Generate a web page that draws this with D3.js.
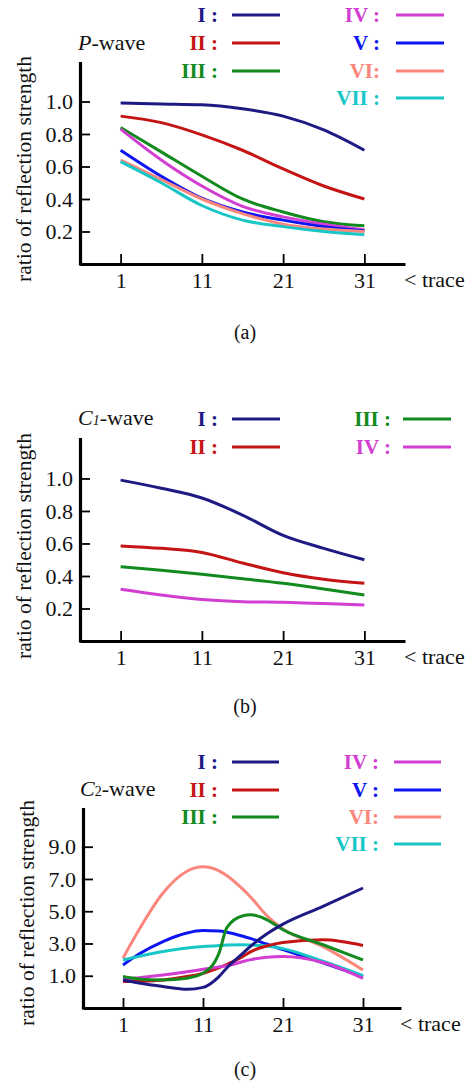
<!DOCTYPE html>
<html>
<head>
<meta charset="utf-8">
<script src="https://cdn.jsdelivr.net/npm/d3@7"></script>
<style>
  body { margin: 0; background: #fff; }
  svg text { font-family: "Liberation Serif", "Times New Roman", serif; }
</style>
</head>
<body>
<div class="chart"></div>
<script>
const traces = [1, 6, 11, 16, 21, 26, 31];
const tickTraces = [1, 11, 21, 31];

// panel (a) P-wave
const pI   = [0.99, 0.985, 0.98, 0.955, 0.91, 0.825, 0.70];
const pII  = [0.91, 0.87, 0.795, 0.70, 0.585, 0.48, 0.40];
const pIII = [0.84, 0.69, 0.54, 0.40, 0.32, 0.26, 0.235];
const pIV  = [0.83, 0.64, 0.48, 0.355, 0.29, 0.245, 0.21];
const pV   = [0.70, 0.54, 0.405, 0.32, 0.27, 0.23, 0.205];
const pVI  = [0.64, 0.52, 0.40, 0.31, 0.245, 0.215, 0.20];
const pVII = [0.63, 0.50, 0.36, 0.27, 0.23, 0.20, 0.18];
const pTicks = [0.2, 0.4, 0.6, 0.8, 1.0];

// panel (b) C1-wave
const c1I   = [0.99, 0.94, 0.88, 0.775, 0.65, 0.57, 0.50];
const c1II  = [0.585, 0.57, 0.545, 0.48, 0.42, 0.38, 0.355];
const c1III = [0.457, 0.435, 0.41, 0.383, 0.355, 0.32, 0.283];
const c1IV  = [0.318, 0.283, 0.256, 0.242, 0.238, 0.23, 0.222];
const c1Ticks = [0.2, 0.4, 0.6, 0.8, 1.0];

// panel (c) C2-wave, read at a finer set of traces
const c2Traces = [1, 3, 6, 9, 11, 13, 14, 16, 17, 19, 21, 26, 31];
const c2I   = [0.74, 0.55, 0.33, 0.16, 0.28, 0.95, 1.5, 2.4, 2.85, 3.6, 4.2, 5.3, 6.44];
const c2II  = [0.64, 0.66, 0.74, 0.95, 1.15, 1.5, 1.7, 2.2, 2.5, 2.85, 3.06, 3.23, 2.88];
const c2III = [0.95, 0.8, 0.74, 0.85, 1.15, 2.4, 4.0, 4.72, 4.78, 4.47, 3.85, 2.92, 1.98];
const c2IV  = [0.78, 0.88, 1.05, 1.25, 1.40, 1.55, 1.62, 1.88, 2.0, 2.15, 2.19, 1.82, 0.84];
const c2V   = [1.67, 2.35, 3.12, 3.65, 3.8, 3.78, 3.7, 3.45, 3.3, 2.95, 2.62, 1.8, 0.95];
const c2VI  = [2.09, 3.85, 6.13, 7.48, 7.75, 7.5, 7.2, 6.35, 5.85, 4.72, 3.9, 2.81, 1.36];
const c2VII = [1.98, 2.2, 2.5, 2.72, 2.81, 2.87, 2.9, 2.92, 2.9, 2.85, 2.68, 1.9, 1.01];
const c2Ticks = [1.0, 3.0, 5.0, 7.0, 9.0];

const colors = {
  I: '#1e1a84', II: '#c41414', III: '#128a1e', IV: '#d23ed2',
  V: '#0c14f2', VI: '#fa867c', VII: '#18c6c6'
};

const width = 476;
const height = 1088;

const svg = d3.select('.chart').append('svg')
  .attr('width', width).attr('height', height);

function drawPanel(p) {
  const g = svg.append('g');
  const x = d3.scaleLinear().domain(p.xDomain).range([p.left, p.right]);
  const y = d3.scaleLinear().domain(p.yDomain).range([p.bottom, p.top]);

  // axes
  const yAxis = g.append('g')
    .attr('transform', `translate(${p.left},0)`)
    .call(d3.axisLeft(y).tickValues(p.yTicks).tickFormat(d3.format('.1f'))
      .tickSizeInner(-10).tickSizeOuter(0).tickPadding(7));
  const xAxis = g.append('g')
    .attr('transform', `translate(0,${p.bottom})`)
    .call(d3.axisBottom(x).tickValues(tickTraces).tickFormat(d3.format('d'))
      .tickSizeInner(-10).tickSizeOuter(0).tickPadding(8));
  [yAxis, xAxis].forEach(a => {
    a.select('.domain').attr('stroke-width', 3.2).attr('stroke', '#000');
    a.selectAll('.tick line').attr('stroke-width', 1.8).attr('stroke', '#000');
    a.selectAll('.tick text').attr('font-size', 22).attr('fill', '#111')
      .attr('font-family', '"Liberation Serif", serif');
  });
  // axis lines meet at the corner
  yAxis.select('.domain').attr('d', `M0.5,${p.top}V${p.bottom + 1.5}`);

  g.append('text')
    .attr('transform', `translate(${p.labelX},${p.bottom - 95}) rotate(-90)`)
    .attr('text-anchor', 'middle')
    .attr('font-size', 21.6)
    .attr('fill', '#111')
    .text('ratio of reflection strength');

  g.append('text')
    .attr('x', p.right - 1).attr('y', p.bottom + 23)
    .attr('font-size', 22).attr('fill', '#111')
    .text('< trace');

  // title
  const t = g.append('text')
    .attr('x', p.titleX).attr('y', p.titleY)
    .attr('font-size', 22).attr('fill', '#111');
  t.append('tspan').attr('font-style', 'italic').text(p.titleMain);
  if (p.titleSub) {
    t.append('tspan').attr('font-size', 14).attr('font-style', p.subItalic ? 'italic' : 'normal')
      .text(p.titleSub);
  }
  t.append('tspan').text('-wave');

  // curves
  const line = d3.line()
    .x(d => x(d[0]))
    .y(d => y(d[1]))
    .curve(d3.curveMonotoneX);
  p.series.forEach(s => {
    g.append('path')
      .datum(p.xs.map((tr, i) => [tr, s.values[i]]))
      .attr('fill', 'none')
      .attr('stroke', colors[s.key])
      .attr('stroke-width', 3)
      .attr('d', line);
  });

  // legend
  p.legend.forEach(l => {
    g.append('text')
      .attr('x', l.tx).attr('y', l.y + 7)
      .attr('text-anchor', 'end')
      .attr('font-size', 21).attr('font-weight', 'bold')
      .attr('fill', colors[l.key])
      .text(l.label);
    g.append('line')
      .attr('x1', l.x1).attr('x2', l.x2)
      .attr('y1', l.y).attr('y2', l.y)
      .attr('stroke', colors[l.key]).attr('stroke-width', 3);
  });

  g.append('text')
    .attr('x', 245).attr('y', p.captionY)
    .attr('text-anchor', 'middle')
    .attr('font-size', 20).attr('fill', '#111')
    .text(p.caption);
}

function leg(key, label, col, y, c) {
  return {key, label, y, tx: c[col][0], x1: c[col][1], x2: c[col][2]};
}
const colsA = [[218, 232, 280], [380, 396, 444]];
const colsB = [[218, 232, 280], [391, 403, 451]];
const colsC = [[218, 232, 279], [379, 394, 441]];

drawPanel({
  left: 80, right: 405, top: 62, bottom: 264,
  xDomain: [-4, 36], yDomain: [0, 1.243], yTicks: pTicks,
  xs: traces, labelX: 31, titleX: 78, titleY: 50,
  titleMain: 'P', titleSub: null,
  caption: '(a)', captionY: 339,
  series: [
    {key: 'I', values: pI}, {key: 'II', values: pII}, {key: 'III', values: pIII},
    {key: 'IV', values: pIV}, {key: 'V', values: pV}, {key: 'VI', values: pVI},
    {key: 'VII', values: pVII}
  ],
  legend: [
    leg('I', 'I :', 0, 15, colsA), leg('II', 'II :', 0, 43, colsA), leg('III', 'III :', 0, 71, colsA),
    leg('IV', 'IV :', 1, 15, colsA), leg('V', 'V :', 1, 43, colsA), leg('VI', 'VI:', 1, 71, colsA),
    leg('VII', 'VII :', 1, 98, colsA)
  ]
});

drawPanel({
  left: 80, right: 405, top: 438, bottom: 641,
  xDomain: [-4, 36], yDomain: [0, 1.249], yTicks: c1Ticks,
  xs: traces, labelX: 31, titleX: 78, titleY: 425,
  titleMain: 'C', titleSub: '1', subItalic: true,
  caption: '(b)', captionY: 713,
  series: [
    {key: 'I', values: c1I}, {key: 'II', values: c1II},
    {key: 'III', values: c1III}, {key: 'IV', values: c1IV}
  ],
  legend: [
    leg('I', 'I :', 0, 419, colsB), leg('II', 'II :', 0, 447, colsB),
    leg('III', 'III :', 1, 419, colsB), leg('IV', 'IV :', 1, 447, colsB)
  ]
});

drawPanel({
  left: 83, right: 401, top: 808, bottom: 1008,
  xDomain: [-4, 35.75], yDomain: [-1, 11.4], yTicks: c2Ticks,
  xs: c2Traces, labelX: 34, titleX: 80, titleY: 796,
  titleMain: 'C', titleSub: '2', subItalic: false,
  caption: '(c)', captionY: 1076,
  series: [
    {key: 'VI', values: c2VI}, {key: 'V', values: c2V}, {key: 'VII', values: c2VII},
    {key: 'II', values: c2II}, {key: 'IV', values: c2IV}, {key: 'III', values: c2III},
    {key: 'I', values: c2I}
  ],
  legend: [
    leg('I', 'I :', 0, 762, colsC), leg('II', 'II :', 0, 790, colsC), leg('III', 'III :', 0, 817, colsC),
    leg('IV', 'IV :', 1, 762, colsC), leg('V', 'V :', 1, 790, colsC), leg('VI', 'VI:', 1, 817, colsC),
    leg('VII', 'VII :', 1, 844, colsC)
  ]
});
</script>
</body>
</html>
